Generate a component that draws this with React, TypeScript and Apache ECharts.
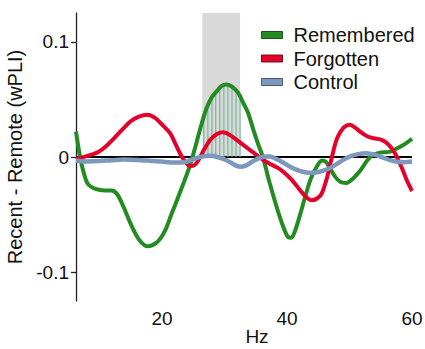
import React, { useEffect, useRef } from "react";
import * as echarts from "echarts";

// ---- data (Hz, Recent - Remote wPLI) ----
const remembered: [number, number][] = [
  [6.25, 0.022], [6.9, 0.0], [7.5, -0.014], [8.1, -0.023], [9.0, -0.027], [9.9, -0.0285],
  [11.0, -0.029], [12.0, -0.029], [12.8, -0.032], [13.5, -0.039], [14.3, -0.049], [15.0, -0.058],
  [15.8, -0.067], [16.6, -0.0735], [17.6, -0.0775], [18.5, -0.0765], [19.5, -0.0725], [20.5, -0.064],
  [21.5, -0.05], [22.4, -0.0376], [23.5, -0.022], [24.5, -0.007], [25.5, 0.012], [26.3, 0.028],
  [27.15, 0.0425], [28.0, 0.052], [28.75, 0.057], [29.5, 0.0615], [30.35, 0.063], [31.2, 0.061],
  [32.2, 0.0556], [33.0, 0.047], [33.8, 0.038], [34.6, 0.024], [35.4, 0.011], [36.2, -0.001],
  [37.2, -0.022], [38.35, -0.0434], [39.3, -0.059], [40.2, -0.0696], [40.7, -0.07], [41.3, -0.064],
  [42.1, -0.05], [42.9, -0.0347], [43.8, -0.019], [44.75, -0.0085], [45.6, -0.003], [46.2, -0.004],
  [46.9, -0.01], [47.7, -0.017], [48.5, -0.0215], [49.5, -0.0225], [50.5, -0.019], [51.7, -0.012],
  [52.7, -0.004], [53.6, 0.0015], [54.9, 0.0038], [56.0, 0.0042], [56.8, 0.005], [57.6, 0.0075],
  [58.4, 0.0098], [59.2, 0.0125], [60, 0.0158],
];

const forgotten: [number, number][] = [
  [6.25, -0.002], [7.5, 0.0], [8.7, 0.002], [9.9, 0.0046], [11.1, 0.0095], [12.3, 0.016],
  [13.6, 0.0235], [15.0, 0.031], [16.3, 0.035], [17.65, 0.0367], [18.9, 0.034], [20.05, 0.028],
  [21.3, 0.0207], [22.1, 0.012], [22.9, 0.003], [23.7, -0.004], [24.5, -0.0078], [25.2, -0.007],
  [25.8, -0.003], [26.7, 0.006], [27.7, 0.0148], [28.8, 0.02], [29.8, 0.0215], [30.9, 0.019],
  [31.95, 0.0148], [33.0, 0.0105], [34.1, 0.006], [35.2, 0.0015], [36.2, -0.0026], [37.3, -0.006],
  [38.4, -0.009], [39.4, -0.0128], [40.8, -0.02], [42.1, -0.0288], [43.1, -0.035], [43.95, -0.0376],
  [44.8, -0.036], [45.55, -0.0317], [46.4, -0.018], [47.15, -0.001], [47.8, 0.013], [48.5, 0.0215],
  [49.3, 0.0265], [50.1, 0.028], [50.9, 0.0255], [51.7, 0.022], [52.5, 0.019], [53.3, 0.017],
  [54.2, 0.016], [55.15, 0.0148], [56.0, 0.012], [56.75, 0.0076], [57.3, 0.003], [57.8, -0.0026],
  [58.5, -0.011], [59.15, -0.02], [60, -0.0295],
];

const control: [number, number][] = [
  [6.25, -0.003], [8, -0.0038], [10, -0.0035], [12, -0.0028], [14, -0.0022], [16, -0.0025],
  [18, -0.0032], [20, -0.004], [22, -0.0047], [23.5, -0.0045], [25, -0.0018], [26.4, 0.0003],
  [27.7, 0.001], [29, -0.0002], [30.35, -0.0028], [31.5, -0.0065], [32.5, -0.0085], [33.4, -0.0075],
  [34.3, -0.0045], [35.5, -0.001], [36.5, 0.0004], [37.3, 0.0005], [38.2, -0.0015], [39.3, -0.0045],
  [40.5, -0.0085], [41.5, -0.011], [42.5, -0.0128], [43.5, -0.0137], [44.5, -0.0135], [45.7, -0.012],
  [46.9, -0.0095], [48, -0.006], [49, -0.0025], [50.1, 0.0005], [51.4, 0.0025], [52.7, 0.0033],
  [54, 0.002], [55.4, -0.0005], [56.5, -0.0028], [57.6, -0.0042], [58.8, -0.0045], [60, -0.004],
];

const zeroLine: [number, number][] = [[6.25, 0], [60, 0]];
const bandRange = [26.45, 32.5];
const hatchHz = [26.7, 27.35, 28.0, 28.6, 29.25, 29.9, 30.55, 31.2, 31.85, 32.5];
const xTickLabels = [20, 40, 60];
const yTickLabels = [-0.1, 0, 0.1];
const xAxisTitle = "Hz";
const yAxisTitle = "Recent - Remote (wPLI)";

const seriesNames = ["Remembered", "Forgotten", "Control"];
const colors = ["#228B22", "#E4002B", "#7D98BD"];
const borders = ["#1d4d1d", "#6b1a22", "#4a5a70"];

const FONT = "'Liberation Sans', Arial, Helvetica, sans-serif";

function interpRemembered(h: number): number {
  for (let i = 0; i < remembered.length - 1; i++) {
    const [x0, y0] = remembered[i];
    const [x1, y1] = remembered[i + 1];
    if (h >= x0 && h <= x1) {
      const t = (h - x0) / (x1 - x0);
      return y0 + t * (y1 - y0);
    }
  }
  return 0;
}

export default function App() {
  const ref = useRef<HTMLDivElement>(null);
  useEffect(() => {
    if (!ref.current) return;
    const chart = echarts.init(ref.current, undefined, { renderer: "svg" });
    const option: any = {
      animation: false,
      backgroundColor: "#ffffff",
      grid: { left: 76, right: 13, top: 13, bottom: 48, containLabel: false, outerBoundsMode: "none" },
      graphic: [
        {
          type: "text",
          x: 257,
          y: 336,
          silent: true,
          style: {
            text: xAxisTitle,
            fontSize: 19,
            fontFamily: FONT,
            fill: "#111",
            textAlign: "center",
            textVerticalAlign: "middle",
          },
        },
      ],
      legend: {
        orient: "vertical",
        left: 261,
        top: 25,
        padding: 0,
        itemWidth: 21,
        itemHeight: 7,
        itemGap: 3.5,
        icon: "rect",
        selectedMode: false,
        data: seriesNames.map((n, i) => ({
          name: n,
          itemStyle: { color: colors[i], borderColor: borders[i], borderWidth: 1 },
        })),
        textStyle: { fontSize: 20, fontFamily: FONT, color: "#111", lineHeight: 20, padding: [0, 0, 0, 6] },
      },
      xAxis: {
        type: "value",
        min: 6.25,
        max: 60,
        axisLine: { show: false },
        axisTick: { show: false },
        splitLine: { show: false },
        axisLabel: {
          customValues: xTickLabels,
          fontSize: 19,
          fontFamily: FONT,
          color: "#111",
          margin: 8,
        },
      },
      yAxis: {
        type: "value",
        min: -0.125,
        max: 0.125,
        name: yAxisTitle,
        nameLocation: "middle",
        nameGap: 46,
        nameTextStyle: { fontSize: 20, fontFamily: FONT, color: "#111" },
        axisLine: { show: true, lineStyle: { color: "#222", width: 1.3 } },
        axisTick: { show: true, customValues: yTickLabels, length: 5, lineStyle: { color: "#222", width: 1.3 } },
        splitLine: { show: false },
        axisLabel: {
          customValues: yTickLabels,
          fontSize: 19,
          fontFamily: FONT,
          color: "#111",
          margin: 7,
          formatter: (v: number) => (v === 0 ? "0" : String(v)),
        },
      },
      series: [
        {
          name: "zero",
          type: "line",
          data: zeroLine,
          symbol: "none",
          silent: true,
          z: 1,
          lineStyle: { color: "#000", width: 2 },
          markArea: {
            silent: true,
            itemStyle: { color: "#d9d9d9" },
            data: [[{ xAxis: bandRange[0], yAxis: 0 }, { xAxis: bandRange[1], yAxis: 0.125 }]],
          },
        },
        {
          name: "hatch",
          type: "custom",
          z: 2,
          silent: true,
          data: hatchHz.map((h) => [h, 0]),
          encode: { x: 0, y: 1 },
          renderItem: (_params: any, api: any) => {
            const h = api.value(0);
            const v = interpRemembered(h);
            const p0 = api.coord([h, 0]);
            const p1 = api.coord([h, v]);
            return {
              type: "line",
              shape: { x1: p0[0], y1: p0[1], x2: p1[0], y2: p1[1] },
              style: { stroke: "#74b89c", lineWidth: 1.2 },
            };
          },
        },
        {
          name: seriesNames[0],
          type: "line",
          data: remembered,
          smooth: 0.3,
          symbol: "none",
          z: 3,
          itemStyle: { color: colors[0] },
          lineStyle: { color: colors[0], width: 4 },
        },
        {
          name: seriesNames[1],
          type: "line",
          data: forgotten,
          smooth: 0.3,
          symbol: "none",
          z: 4,
          itemStyle: { color: colors[1] },
          lineStyle: { color: colors[1], width: 4 },
        },
        {
          name: seriesNames[2],
          type: "line",
          data: control,
          smooth: 0.3,
          symbol: "none",
          z: 5,
          itemStyle: { color: colors[2] },
          lineStyle: { color: colors[2], width: 4.5 },
        },
      ],
    };
    chart.setOption(option);
    return () => chart.dispose();
  }, []);
  return (
    <div
      ref={ref}
      style={{ position: "absolute", left: 0, top: 0, width: 425, height: 349, background: "#fff" }}
    />
  );
}
